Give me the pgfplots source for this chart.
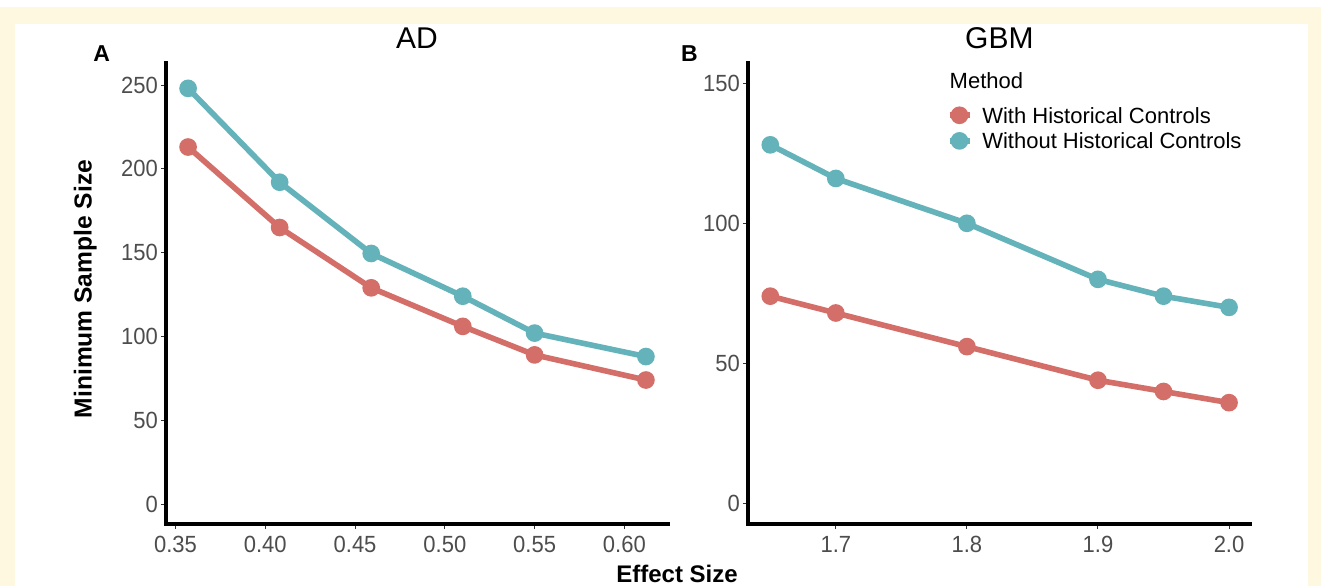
\documentclass[border=0pt]{standalone}
\usepackage{fontspec}
\setmainfont{Liberation Sans}
\newfontfamily\tickfont[FakeStretch=0.94]{Liberation Sans}
\usepackage{pgfplots}
\pgfplotsset{compat=1.18}

\definecolor{cream}{HTML}{FFF8E1}
\definecolor{withc}{HTML}{D46E68}
\definecolor{withoutc}{HTML}{64B2BA}
\definecolor{ticklab}{HTML}{4D4D4D}
\definecolor{tickc}{HTML}{333333}

\pgfplotsset{
  panel/.style={
    scale only axis, width=251pt, height=230.65pt,
    axis lines=left,
    axis line style={-, line width=2pt, line cap=rect},
    tick align=outside, major tick length=2.5pt,
    tick style={tickc, line width=0.5pt},
    ticklabel style={font=\tickfont\fontsize{11.7}{13}\selectfont, text=ticklab},
    yticklabel style={xshift=2pt},
    /pgf/number format/assume math mode=true,
    clip=false,
    every axis plot/.append style={line width=2.8pt, mark=*, mark size=3pt,
      mark options={draw=none}},
  },
}

\begin{document}
\begin{tikzpicture}
\useasboundingbox (0,0) rectangle (660.5pt,-293pt);
\fill[cream] (0,0) rectangle (660.5pt,-293pt);
\fill[white] (0,0) rectangle (660.5pt,-3.5pt);
\fill[white] (7.5pt,-12pt) rectangle (654pt,-293pt);

% panel A
\begin{axis}[panel, at={(83pt,-262pt)}, anchor=south west,
    xmin=0.3447, xmax=0.6243, ymin=-11.9, ymax=263.3,
    xtick={0.35,0.40,0.45,0.50,0.55,0.60},
    ytick={0,50,100,150,200,250},
    xticklabel style={/pgf/number format/.cd, fixed, fixed zerofill, precision=2},
]
\addplot[withoutc] coordinates {(0.357,248)(0.408,192)(0.459,149.5)(0.510,124)(0.550,102)(0.612,88)};
\addplot[withc] coordinates {(0.357,213)(0.408,165)(0.459,129)(0.510,106)(0.550,89)(0.612,74)};
\end{axis}

% panel B
\begin{axis}[panel, at={(374pt,-262pt)}, anchor=south west,
    xmin=1.633, xmax=2.016, ymin=-7.3, ymax=157.3,
    xtick={1.7,1.8,1.9,2.0},
    ytick={0,50,100,150},
    xticklabel style={/pgf/number format/.cd, fixed, fixed zerofill, precision=1},
    legend style={at={(0.395,0.906)}, anchor=north west, draw=none, fill=none,
      inner sep=0pt, font=\fontsize{11}{13}\selectfont, row sep=4pt,
      nodes={inner sep=0pt, text height=8pt, text depth=0pt},
      /tikz/every odd column/.append style={column sep=5pt}},
    legend cell align=left,
    legend image code/.code={
      \draw[line width=2.8pt] (0pt,0pt) -- (10pt,0pt);
      \fill (5pt,0pt) circle (3pt);},
]
\addplot[withc] coordinates {(1.65,74)(1.70,68)(1.80,56)(1.90,44)(1.95,40)(2.00,36)};
\addplot[withoutc] coordinates {(1.65,128)(1.70,116)(1.80,100)(1.90,80)(1.95,74)(2.00,70)};
\legend{With Historical Controls, Without Historical Controls}
\end{axis}

% titles and labels
\node[anchor=base, font=\fontsize{15}{17}\selectfont] at (208.5pt,-24.2pt) {AD};
\node[anchor=base, font=\fontsize{15}{17}\selectfont] at (499.7pt,-24.2pt) {GBM};
\node[anchor=base, font=\fontsize{11.5}{13}\selectfont\bfseries] at (50.9pt,-30.8pt) {A};
\node[anchor=base, font=\fontsize{11.5}{13}\selectfont\bfseries] at (344.75pt,-30.8pt) {B};
\node[anchor=base, rotate=90, font=\fontsize{12.3}{14}\selectfont\bfseries] at (45.75pt,-144.5pt) {Minimum Sample Size};
\node[anchor=base, font=\fontsize{12}{14}\selectfont\bfseries] at (338.5pt,-291pt) {Effect Size};
\node[anchor=base west, inner sep=0pt, font=\fontsize{11}{13}\selectfont] at (474.65pt,-44.3pt) {Method};
\end{tikzpicture}
\end{document}
